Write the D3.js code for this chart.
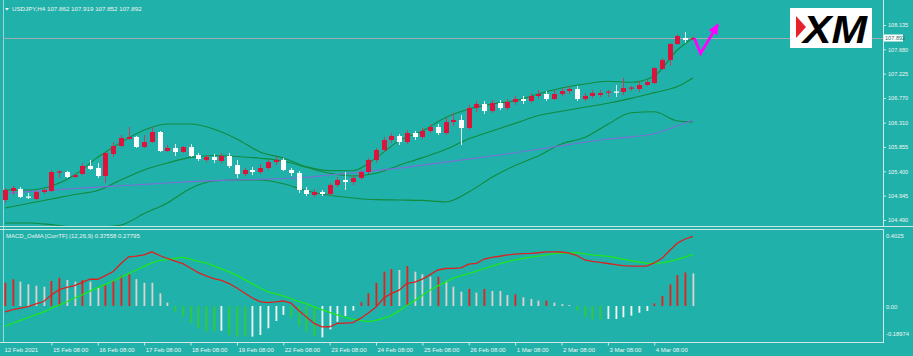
<!DOCTYPE html>
<html><head><meta charset="utf-8">
<script src="https://cdnjs.cloudflare.com/ajax/libs/d3/7.8.5/d3.min.js"></script>
<style>html,body{margin:0;padding:0;background:#20b2aa;overflow:hidden}</style>
</head><body><svg id="c" width="913" height="356"></svg>
<script>
// ---------- DATA ----------
const symbolTitle = "USDJPY,H4  107.862 107.919 107.852 107.892";
const macdTitle = "MACD_OsMA [CurrTF] (12,26,9) 0.37558 0.27795";
const opens = [104.864,105.032,105.070,104.929,104.883,105.013,105.032,105.378,105.387,105.294,
105.350,105.499,105.462,105.313,105.724,105.873,106.004,106.042,105.855,105.948,
106.135,105.780,105.836,105.761,105.855,105.705,105.612,105.668,105.593,105.686,
105.518,105.350,105.425,105.387,105.462,105.574,105.612,105.425,105.369,105.051,
104.957,105.013,104.976,105.144,105.238,105.200,105.275,105.387,105.612,105.799,
105.985,106.060,105.948,106.116,106.042,106.154,106.228,106.116,106.322,106.359,
106.210,106.584,106.658,106.528,106.677,106.584,106.696,106.752,106.714,106.808,
106.845,106.752,106.845,106.901,106.939,106.752,106.808,106.827,106.873,106.892,
106.883,106.948,106.939,107.014,107.051,107.313,107.481,107.780,107.892,107.862];
const highs = [105.088,105.126,105.107,104.995,105.032,105.088,105.425,105.425,105.406,105.350,
105.556,105.612,105.556,105.761,105.948,106.079,106.228,106.060,106.079,106.228,
106.154,105.892,105.911,105.873,105.911,105.742,105.705,105.724,105.742,105.742,
105.612,105.462,105.481,105.537,105.612,105.668,105.649,105.462,105.406,105.107,
105.070,105.051,105.182,105.294,105.387,105.331,105.425,105.649,105.836,106.042,
106.116,106.098,106.172,106.154,106.210,106.285,106.285,106.397,106.490,106.453,
106.640,106.714,106.714,106.733,106.733,106.752,106.808,106.808,106.864,106.920,
106.901,106.920,106.957,106.995,106.995,106.864,106.920,106.920,106.920,107.014,
107.144,106.995,107.088,107.107,107.350,107.518,107.799,107.967,108.004,107.919];
const lows = [104.808,104.957,104.901,104.883,104.864,104.976,105.013,105.275,105.275,105.275,
105.331,105.425,105.275,105.182,105.668,105.855,105.985,105.836,105.836,105.929,
105.761,105.761,105.686,105.742,105.668,105.593,105.574,105.556,105.556,105.462,
105.275,105.313,105.331,105.350,105.425,105.518,105.406,105.313,104.995,104.939,
104.920,104.939,104.939,105.107,105.051,105.144,105.238,105.350,105.556,105.761,
105.929,105.892,105.911,105.985,106.004,106.116,106.079,106.079,106.247,105.892,
106.172,106.509,106.471,106.490,106.546,106.546,106.640,106.658,106.677,106.752,
106.714,106.733,106.808,106.845,106.714,106.714,106.771,106.789,106.789,106.789,
106.827,106.901,106.883,106.995,107.032,107.294,107.369,107.761,107.799,107.852];
const closes = [105.051,105.088,104.920,104.911,105.013,105.051,105.387,105.397,105.294,105.331,
105.499,105.443,105.313,105.742,105.873,106.023,106.042,105.855,105.948,106.135,
105.780,105.836,105.761,105.855,105.686,105.630,105.668,105.612,105.686,105.499,
105.350,105.425,105.387,105.462,105.574,105.612,105.425,105.369,105.051,104.976,
105.013,104.976,105.144,105.238,105.200,105.275,105.387,105.612,105.799,105.985,
106.060,105.948,106.116,106.042,106.154,106.228,106.116,106.322,106.359,106.210,
106.584,106.658,106.528,106.677,106.584,106.696,106.752,106.714,106.808,106.845,
106.752,106.845,106.901,106.939,106.752,106.808,106.864,106.864,106.892,106.873,
106.957,106.967,107.014,107.070,107.331,107.481,107.780,107.929,107.855,107.892];

// Bollinger bands and MA read at every third bar
const bandIdx = [0,3,6,9,12,15,18,21,24,27,30,33,36,39,42,45,48,51,54,57,60,63,66,69,72,75,78,81,84,87,89];
const bbUpper = [105.051,105.051,105.126,105.331,105.662,105.939,106.172,106.285,106.285,106.191,106.004,105.761,105.649,105.488,105.413,105.412,105.649,105.974,106.154,106.404,106.565,106.658,106.718,106.845,106.957,107.032,107.083,107.064,107.182,107.668,107.892];
const bbMiddle = [104.714,104.798,104.882,104.967,105.041,105.238,105.425,105.555,105.660,105.696,105.677,105.645,105.593,105.475,105.363,105.312,105.365,105.513,105.656,105.808,106.007,106.154,106.296,106.442,106.524,106.597,106.671,106.763,106.871,106.984,107.144];
const bbLower = [104.434,104.434,104.404,104.359,104.359,104.397,104.610,104.808,105.081,105.219,105.238,105.238,105.167,105.038,104.952,104.901,104.870,104.864,104.856,104.827,105.013,105.290,105.511,105.688,105.911,106.032,106.279,106.494,106.513,106.342,106.322];
const maSlow = [104.995,105.021,105.047,105.079,105.105,105.131,105.156,105.182,105.208,105.226,105.239,105.252,105.266,105.286,105.331,105.374,105.417,105.460,105.516,105.572,105.628,105.686,105.748,105.812,105.879,105.944,106.000,106.043,106.103,106.251,106.359];

const macdMain = [-0.032,-0.019,-0.011,-0.003,0.011,0.024,0.059,0.088,0.100,0.110,
0.127,0.144,0.144,0.164,0.186,0.229,0.265,0.269,0.275,0.292,
0.272,0.256,0.242,0.228,0.205,0.180,0.162,0.148,0.138,0.121,
0.097,0.070,0.043,0.024,0.018,0.022,0.027,0.016,-0.024,-0.059,
-0.094,-0.113,-0.112,-0.094,-0.092,-0.090,-0.067,-0.038,-0.005,0.043,
0.068,0.085,0.122,0.129,0.145,0.169,0.194,0.202,0.203,0.205,
0.226,0.230,0.253,0.262,0.268,0.275,0.280,0.282,0.283,0.287,
0.292,0.292,0.291,0.285,0.272,0.248,0.241,0.235,0.229,0.223,
0.218,0.215,0.215,0.215,0.232,0.257,0.299,0.339,0.361,0.3756];
const macdSignal = [-0.108,-0.093,-0.078,-0.062,-0.047,-0.032,-0.012,0.005,0.023,0.043,
0.060,0.080,0.099,0.117,0.136,0.156,0.174,0.194,0.213,0.232,
0.246,0.250,0.256,0.262,0.252,0.241,0.232,0.216,0.200,0.184,
0.165,0.142,0.120,0.097,0.076,0.065,0.054,0.039,0.025,0.011,
-0.005,-0.020,-0.034,-0.048,-0.062,-0.071,-0.077,-0.084,-0.077,-0.066,
-0.052,-0.025,0.003,0.029,0.058,0.086,0.108,0.129,0.150,0.163,
0.175,0.188,0.202,0.215,0.228,0.239,0.248,0.256,0.263,0.269,
0.275,0.282,0.285,0.286,0.288,0.281,0.275,0.271,0.267,0.260,
0.251,0.244,0.237,0.230,0.230,0.232,0.240,0.251,0.265,0.278];
const osma = [0.125,0.144,0.131,0.117,0.109,0.104,0.135,0.152,0.140,0.131,
0.140,0.131,0.099,0.117,0.140,0.163,0.171,0.145,0.125,0.125,
0.068,0.018,-0.031,-0.058,-0.093,-0.120,-0.138,-0.138,-0.133,-0.156,
-0.165,-0.165,-0.165,-0.156,-0.120,-0.081,-0.048,-0.061,-0.108,-0.138,
-0.165,-0.169,-0.126,-0.085,-0.054,-0.025,0.020,0.068,0.125,0.185,
0.199,0.194,0.215,0.185,0.171,0.158,0.158,0.136,0.104,0.077,
0.092,0.072,0.092,0.081,0.081,0.059,0.063,0.047,0.038,0.029,
0.029,0.018,0.010,0.005,-0.025,-0.061,-0.072,-0.072,-0.070,-0.070,
-0.061,-0.052,-0.036,-0.027,0.014,0.054,0.117,0.167,0.181,0.176];
// R = rising positive, P = falling positive, G = falling negative, W = rising negative
const osmaColor = "RRPPPPRRPPRPPRRRRPPPPPGGGGGGWGGGWWWWWGGGGWWWWWRRRRRPRPPPRPPPRPRPPPRPPPRPPPGGGGWWWWWWRRRRRP";

const priceTicks = [108.135,107.680,107.225,106.770,106.310,105.855,105.400,104.945,104.490];
const macdTicks = [0.4025,0.0,-0.18974];
const macdTickLabels = ["0.4025","0.00","-0.18974"];
const lastPrice = 107.892;
const timeTickIdx = [0,6,12,18,24,30,36,42,48,54,60,66,72,78,84];
const timeTickLabels = ["12 Feb 2021","15 Feb 08:00","16 Feb 08:00","17 Feb 08:00","18 Feb 08:00","19 Feb 08:00","22 Feb 08:00","23 Feb 08:00","24 Feb 08:00","25 Feb 08:00","26 Feb 08:00","1 Mar 08:00","2 Mar 08:00","3 Mar 08:00","4 Mar 08:00"];
// forecast arrow (bar index, price)
const arrowIdx = [89.2, 90.0, 92.2];
const arrowPrice = [107.885, 107.605, 108.135];

// ---------- DRAW ----------
const svg = d3.select("#c");
const FONT = "'Liberation Sans', Arial, sans-serif";
const TXT = "#f2f2f2";
const FRAME = "#cfe8e6";
const axisX = 883;

const x = d3.scaleLinear().domain([0, 89]).range([5, 692.9]);
const y = d3.scaleLinear().domain([104.490, 108.135]).range([220, 25]);
const ym = d3.scaleLinear().domain([-0.18974, 0.4025]).range([341.2, 231.3]);

svg.append("rect").attr("width",913).attr("height",356).attr("fill","#20b2aa");

const defs = svg.append("defs");
defs.append("clipPath").attr("id","cpMain").append("rect").attr("x",3).attr("y",0).attr("width",axisX-3).attr("height",226);
defs.append("clipPath").attr("id","cpMacd").append("rect").attr("x",3).attr("y",230).attr("width",axisX-3).attr("height",112);

// frames
svg.append("line").attr("x1",0).attr("x2",913).attr("y1",226.5).attr("y2",226.5).attr("stroke",FRAME);
svg.append("line").attr("x1",0).attr("x2",axisX).attr("y1",229.5).attr("y2",229.5).attr("stroke",FRAME);
svg.append("line").attr("x1",0).attr("x2",axisX).attr("y1",342.5).attr("y2",342.5).attr("stroke",FRAME);
svg.append("line").attr("x1",axisX+0.5).attr("x2",axisX+0.5).attr("y1",0).attr("y2",226).attr("stroke",FRAME);
svg.append("line").attr("x1",axisX+0.5).attr("x2",axisX+0.5).attr("y1",229).attr("y2",343).attr("stroke",FRAME);
svg.append("line").attr("x1",3.5).attr("x2",3.5).attr("y1",0).attr("y2",343).attr("stroke",FRAME).attr("opacity",0.7);

const gMain = svg.append("g").attr("clip-path","url(#cpMain)");

// bid line
gMain.append("line").attr("x1",3).attr("x2",axisX).attr("y1",Math.round(y(lastPrice))+0.5).attr("y2",Math.round(y(lastPrice))+0.5)
  .attr("stroke","#a3aeb0").attr("stroke-width",1);

// bands
const bandLine = arr => d3.line().x((d,i)=>x(bandIdx[i])).y(d=>y(d)).curve(d3.curveMonotoneX)(arr);
[bbUpper, bbMiddle, bbLower].forEach(a=>{
  gMain.append("path").attr("d",bandLine(a)).attr("fill","none").attr("stroke","#128a3e").attr("stroke-width",1.1);
});
gMain.append("path").attr("d",bandLine(maSlow)).attr("fill","none").attr("stroke","#7a6fd6").attr("stroke-width",1.1);

// candles
const bars = d3.range(opens.length);
const cg = gMain.append("g");
bars.forEach(i=>{
  const bull = closes[i] >= opens[i];
  const cx = Math.round(x(i)) + 0.5;
  cg.append("line").attr("x1",cx).attr("x2",cx).attr("y1",y(highs[i])).attr("y2",y(lows[i]))
    .attr("stroke", bull ? "#c0405e" : "#e8e8e8").attr("stroke-width",1);
  const top = y(Math.max(opens[i],closes[i])), bot = y(Math.min(opens[i],closes[i]));
  cg.append("rect").attr("x",cx-2.5).attr("y",top).attr("width",5).attr("height",Math.max(1.2,bot-top))
    .attr("fill", bull ? "#dc143c" : "#ffffff");
});

// forecast arrow
const ap = arrowIdx.map((d,i)=>[x(d), y(arrowPrice[i])]);
svg.append("path").attr("d", d3.line()(ap)).attr("fill","none").attr("stroke","#ff00ff").attr("stroke-width",2.8).attr("stroke-linejoin","miter");
{
  const [x1,y1] = ap[1], [x2,y2] = ap[2];
  const ang = Math.atan2(y2-y1, x2-x1);
  const L = 9, W = 5;
  const bx = x2 - L*Math.cos(ang), by = y2 - L*Math.sin(ang);
  const head = [[x2+2*Math.cos(ang),y2+2*Math.sin(ang)],[bx - W*Math.sin(ang), by + W*Math.cos(ang)],[bx + W*Math.sin(ang), by - W*Math.cos(ang)]];
  svg.append("path").attr("d", d3.line()(head)+"Z").attr("fill","#ff00ff");
}

// price axis
const pa = svg.append("g").attr("transform",`translate(${axisX},0)`)
  .call(d3.axisRight(y).tickValues(priceTicks).tickSize(3).tickPadding(2).tickFormat(d3.format(".3f")));
pa.select(".domain").remove();
pa.selectAll("line").attr("stroke",FRAME);
pa.selectAll("text").attr("fill",TXT).attr("font-family",FONT).attr("font-size",5.6);

// last price box
{
  const yy = y(lastPrice);
  svg.append("rect").attr("x",axisX+1).attr("y",yy-3.5).attr("width",19).attr("height",7).attr("fill","#ffffff");
  svg.append("text").attr("x",axisX+2).attr("y",yy).attr("dy","0.35em").attr("font-family",FONT).attr("font-size",5.6)
    .attr("fill","#1f6f6b").text(d3.format(".3f")(lastPrice));
}

// header
svg.append("path").attr("d","M5,8 L9,8 L7,10.5 Z").attr("fill","#ffffff");
svg.append("text").attr("x",12).attr("y",10.5).attr("font-family",FONT).attr("font-size",6.2).attr("fill",TXT).text(symbolTitle);

// XM logo
{
  const lg = svg.append("g");
  lg.append("rect").attr("x",790).attr("y",8).attr("width",82).attr("height",40).attr("fill","#ffffff");
  lg.append("path").attr("d","M796,16 L806,27 L796,38 Z").attr("fill","#e8202a");
  lg.append("text").attr("x",803).attr("y",43).attr("font-family","'Liberation Sans', Arial, sans-serif")
    .attr("font-weight","bold").attr("font-style","italic").attr("font-size",39).attr("fill","#000000")
    .attr("textLength",64).attr("lengthAdjust","spacingAndGlyphs").text("XM");
}

// MACD panel
const gM = svg.append("g").attr("clip-path","url(#cpMacd)");
const colMap = {R:"#ee1c1c", P:"#e2cfcf", G:"#34c934", W:"#f4f8f8"};
bars.forEach(i=>{
  const v = osma[i];
  const y0 = ym(0), y1 = ym(v);
  gM.append("rect").attr("x",Math.round(x(i))-0.5).attr("y",Math.min(y0,y1)).attr("width",1.8)
    .attr("height",Math.max(1,Math.abs(y1-y0))).attr("fill",colMap[osmaColor[i]]);
});
gM.append("path").attr("d", d3.line().x((d,i)=>x(i)).y(d=>ym(d))(macdSignal)).attr("fill","none").attr("stroke","#1ee61e").attr("stroke-width",1.3);
gM.append("path").attr("d", d3.line().x((d,i)=>x(i)).y(d=>ym(d))(macdMain)).attr("fill","none").attr("stroke","#dd2020").attr("stroke-width",1.3);

svg.append("text").attr("x",6).attr("y",237.5).attr("font-family",FONT).attr("font-size",6).attr("fill",TXT).text(macdTitle);

// macd axis
const ma = svg.append("g").attr("transform",`translate(${axisX},0)`)
  .call(d3.axisRight(ym).tickValues(macdTicks).tickSize(0).tickPadding(3).tickFormat((d,i)=>macdTickLabels[i]));
ma.select(".domain").remove();
ma.selectAll("text").attr("fill",TXT).attr("font-family",FONT).attr("font-size",5.8)
  .attr("dy",(d,i)=> i===0 ? "1.0em" : (i===2 ? "-1.0em" : "0.35em"));

// time axis
const ta = svg.append("g").attr("transform","translate(0,342.5)")
  .call(d3.axisBottom(x).tickValues(timeTickIdx).tickSize(3).tickPadding(2).tickFormat((d,i)=>timeTickLabels[i]));
ta.select(".domain").remove();
ta.selectAll("line").attr("stroke",FRAME).attr("opacity",(d,i)=> i===0?0:1);
ta.selectAll("text").attr("fill",TXT).attr("font-family",FONT).attr("font-size",6)
  .attr("text-anchor","start").attr("dx", (d,i)=> i===0 ? "-1" : "1");
</script></body></html>
